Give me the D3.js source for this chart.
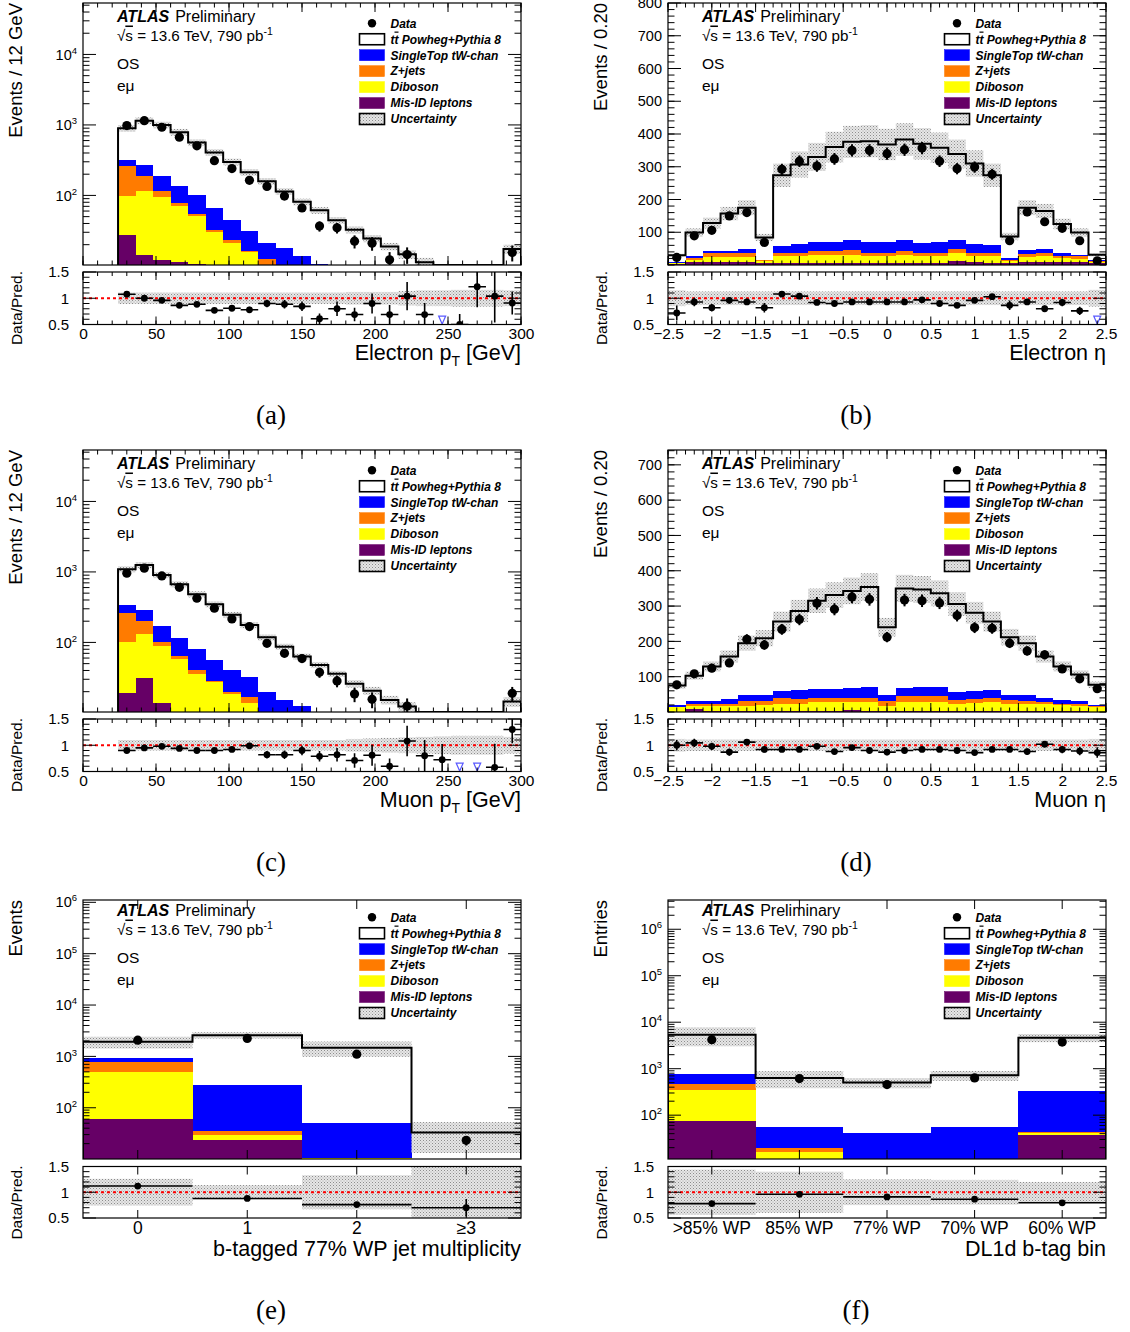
<!DOCTYPE html>
<html><head><meta charset="utf-8">
<script src="https://cdn.jsdelivr.net/npm/d3@7"></script>
<style>
body{margin:0;background:#fff}
svg{display:block}
text{font-family:"Liberation Sans",Arial,Helvetica,sans-serif}
</style>
</head><body>
<svg id="c" width="1130" height="1332"></svg>
<script>
// ---------------- DATA ----------------
const ptEdges = [24,36,48,60,72,84,96,108,120,132,144,156,168,180,192,204,216,228,240,252,264,276,288,300];
const etaEdges = [-2.5,-2.3,-2.1,-1.9,-1.7,-1.5,-1.3,-1.1,-0.9,-0.7,-0.5,-0.3,-0.1,0.1,0.3,0.5,0.7,0.9,1.1,1.3,1.5,1.7,1.9,2.1,2.3,2.5];
const nbCategories = ["0","1","2","\u22653"];
const dlCategories = [">85% WP","85% WP","77% WP","70% WP","60% WP"];
const ptTicks = [0,50,100,150,200,250,300];
const etaTicks = [-2.5,-2,-1.5,-1,-0.5,0,0.5,1,1.5,2,2.5];
const ratioTicks = [0.5,1,1.5];
const elEtaYTicks = [100,200,300,400,500,600,700,800];
const muEtaYTicks = [100,200,300,400,500,600,700];

// (a) electron pT
const elPtData = [978,1150,927,670,505,311,240,164,134,98,66.5,36.7,34.7,22.4,21,12.2,14.5,7,2,3,6,4,15.5];
const elPtTtbar = [577,883,814,652,463,341,254,182,138,96.1,67,50.7,37.5,27.5,20.5,15.9,12.1,9.3,6.5,5,3.8,3.2,14.4];
const elPtSingleTop = [58,81,72,60,46,34,22,14.5,8.4,12.9,11,8.8,5.5,4,3,2.5,2,2,1.5,1,1,0.8,2];
const elPtZjets = [165,72,18,7,3,2,2,1,6.6,2,1,1,0.5,0.5,0.5,0.5,0.5,0,0,0,0,0,0.5];
const elPtDiboson = [70.5,99.5,84,59.8,40.3,26,18,13.5,5,2,1.5,0.7,1,0.5,0.5,0,0,0,0,0,0,0,0.5];
const elPtMisID = [27.5,14.5,12,11.2,10.7,4,3,2,1,1,0.5,0.3,0,0,0,0,0,0,0,0,0,0,0];
const elPtRatio = [1.077,1.0,0.96,0.865,0.885,0.77,0.81,0.78,0.90,0.885,0.846,0.61,0.80,0.69,0.90,0.69,1.04,0.69,null,0.5,1.22,1.04,0.91];
const elPtRatioErr = [0.03,0.03,0.03,0.04,0.04,0.05,0.05,0.06,0.07,0.08,0.09,0.1,0.14,0.13,0.19,0.18,0.27,0.22,0,0.2,0.39,0.5,0.22];
const elPtUnc = [0.11,0.11,0.11,0.11,0.11,0.11,0.11,0.11,0.11,0.11,0.11,0.11,0.11,0.12,0.12,0.12,0.14,0.15,0.15,0.16,0.16,0.16,0.15];

// (b) electron eta
const elEtaData = [23,89,106,150,160,69,292,317,302,324,350,350,340,352,357,317,294,299,277,74,162,132,112,74,13];
const elEtaTtbar = [20,71,86,115,126,68,215,243,259,289,299,307,297,306,304,289,263,245,214,67,129,115,88,68,16];
const elEtaSingleTop = [3,7,6,6,13,2,23,27,27,29,31,33,33,33,28,33,27,27,22,4,12,12,9,5,3];
const elEtaZjets = [2,5,13,12,13,2,8,9,14,12,16,10,10,14,10,8,13,10,10,4,9,12,7,8,4];
const elEtaDiboson = [2,8,15,16,15,7,22,22,25,25,25,23,23,25,23,23,25,20,22,7,17,18,13,10,3];
const elEtaMisID = [3,8,8,8,8,5,6,6,5,5,5,5,5,5,5,5,11,8,6,5,8,8,8,8,5];
const elEtaRatio = [0.72,0.93,0.82,0.96,0.93,0.82,1.08,1.04,0.92,0.90,0.93,0.93,0.93,0.93,0.97,0.90,0.865,0.96,1.03,0.865,0.93,0.80,0.92,0.76,null];
const elEtaRatioErr = [0.14,0.08,0.07,0.06,0.06,0.09,0.05,0.04,0.04,0.04,0.04,0.04,0.04,0.04,0.04,0.04,0.04,0.04,0.05,0.09,0.06,0.06,0.07,0.08,0];
const elEtaUnc = [0.15,0.13,0.13,0.13,0.13,0.13,0.13,0.13,0.13,0.13,0.13,0.13,0.13,0.13,0.13,0.13,0.13,0.13,0.13,0.13,0.13,0.13,0.13,0.13,0.16];

// (c) muon pT
const muPtData = [958,1130,877,605,424,306,215,168,97,70,59,37.6,28.4,18.5,15.6,9,12.5,7,5,0,0,2,19];
const muPtTtbar = [752,967,735,554,403,292,205,145,98.5,72,50.5,40,30,21,16.7,12.3,9.8,7,5.5,4.5,3.5,2.8,11.5];
const muPtSingleTop = [76,85,71,51,40,27.6,21.5,15.4,11.5,10,9.5,6,4.5,4,3,2.5,2,1.7,1.2,1,1,1,2];
const muPtZjets = [161,72,10,6,4,0.9,1,2.6,2,2,1,1,0.5,0.5,0.5,0.2,0.2,0.3,0.3,0,0,0,0.5];
const muPtDiboson = [84,100.5,76,53,33,25.5,17.5,13,5.5,2.5,1.7,0.8,1,0.5,0.5,0.3,0.3,0,0,0,0,0,0.5];
const muPtMisID = [19,31.5,14,5,3,2,1,1,0.5,0.5,0.3,0.2,0,0,0,0,0,0,0,0,0,0,0];
const muPtRatio = [0.90,0.95,0.98,0.94,0.90,0.90,0.92,0.99,0.82,0.82,0.90,0.79,0.82,0.71,0.81,0.60,1.08,0.80,0.725,null,null,0.58,1.30];
const muPtRatioErr = [0.03,0.03,0.03,0.04,0.04,0.05,0.05,0.06,0.07,0.08,0.09,0.1,0.13,0.14,0.2,0.15,0.29,0.3,0.3,0,0,0.45,0.26];
const muPtUnc = [0.1,0.1,0.1,0.1,0.1,0.1,0.1,0.1,0.1,0.1,0.1,0.1,0.1,0.12,0.13,0.14,0.15,0.16,0.17,0.18,0.18,0.18,0.16];

// (d) muon eta
const muEtaData = [77,108,124,139,206,190,234,262,308,291,326,319,212,317,315,309,273,239,237,195,173,162,122,94,66];
const muEtaTtbar = [56,73,99,120,146,161,197,224,250,266,275,284,192,282,277,265,250,222,195,163,147,116,95,76,58];
const muEtaSingleTop = [4,6,7,14,19,18,19,24,24,24,28,29,18,24,26,27,23,23,20,16,18,13,10,6,2];
const muEtaZjets = [2,6,6,6,12,11,16,14,13,13,12,13,12,15,16,16,11,10,13,9,8,6,4,6,2];
const muEtaDiboson = [12,10,14,14,15,16,21,21,25,25,21,25,15,26,25,25,19,23,25,21,19,19,17,15,14];
const muEtaMisID = [1,8,3,3,3,3,3,3,3,3,7,3,3,3,3,3,3,3,3,3,3,3,3,3,1];
const muEtaRatio = [1.0,1.045,0.98,0.87,1.06,0.92,0.92,0.92,0.98,0.88,0.955,0.90,0.87,0.90,0.92,0.92,0.90,0.86,0.92,0.92,0.88,1.02,0.92,0.89,0.86];
const muEtaRatioErr = [0.1,0.08,0.07,0.07,0.06,0.06,0.05,0.05,0.05,0.05,0.05,0.05,0.06,0.05,0.05,0.05,0.05,0.05,0.05,0.05,0.06,0.06,0.07,0.08,0.1];
const muEtaUnc = [0.12,0.11,0.11,0.11,0.11,0.11,0.11,0.11,0.11,0.11,0.11,0.11,0.11,0.11,0.11,0.11,0.11,0.11,0.11,0.11,0.11,0.11,0.11,0.11,0.12];

// (e) b-tag multiplicity
const nbData = [2070,2235,1104,23.2];
const nbTtbar = [986,2315,1415,25.9];
const nbSingleTop = [153,240,40.7,5];
const nbZjets = [282,4.8,0.3,0.5];
const nbDiboson = [439,6.8,0.2,0.5];
const nbMisID = [59.7,23.2,10.2,1];
const nbRatio = [1.12,0.88,0.76,0.70];
const nbRatioErr = [0.02,0.02,0.03,0.17];
const nbUnc = [0.26,0.14,0.33,0.6];

// (f) DL1d b-tag bin
const dlData = [4210,614,456,632,3740];
const dlTtbar = [4641,576,462.5,666.5,4323];
const dlSingleTop = [297,36.1,36.5,50.5,284.4];
const dlZjets = [118,3.6,1,1,2.1];
const dlDiboson = [270,11.3,1,1,3.2];
const dlMisID = [74,5,2,2,37.3];
const dlRatio = [0.78,0.96,0.91,0.865,0.795];
const dlRatioErr = [0.02,0.04,0.05,0.04,0.02];
const dlUnc = [0.44,0.40,0.25,0.24,0.20];

// ---------------- STYLE / LAYOUT ----------------
const COL_MISID = "#660066", COL_DIB = "#ffff00", COL_Z = "#ff7b00", COL_ST = "#0000ff", COL_TT = "#ffffff";
const cols = [{x0:83,x1:521},{x0:668,x1:1106}];
const rows = [
  {mt:3,mb:265,rt:272,rb:324.5,off:0,xlab:16,xlabPad:3.5},
  {mt:450,mb:712,rt:719,rb:771.5,off:447,xlab:16,xlabPad:3.5},
  {mt:900,mb:1159,rt:1166.5,rb:1218,off:894,xlab:17.5,xlabPad:3.5}
];
const fmtEta = v => v<0 ? "\u2212"+Math.abs(v) : String(v);

const panels = [
  {id:"a",col:0,row:0,edges:ptEdges,xDomain:[0,300],xMajor:ptTicks,xMinorStep:10,xFmt:String,log:true,yDomain:[10.3,53700],
   data:elPtData,comps:[elPtMisID,elPtDiboson,elPtZjets,elPtSingleTop,elPtTtbar],ratio:elPtRatio,ratioErr:elPtRatioErr,unc:elPtUnc,
   yTitle:"Events / 12 GeV",xTitle:["Electron p","T"," [GeV]"],label:"(a)"},
  {id:"b",col:1,row:0,edges:etaEdges,xDomain:[-2.5,2.5],xMajor:etaTicks,xMinorStep:0.1,xFmt:fmtEta,log:false,yDomain:[0,800],yMajor:elEtaYTicks,yMinorStep:20,
   data:elEtaData,comps:[elEtaMisID,elEtaDiboson,elEtaZjets,elEtaSingleTop,elEtaTtbar],ratio:elEtaRatio,ratioErr:elEtaRatioErr,unc:elEtaUnc,
   yTitle:"Events / 0.20",xTitle:["Electron \u03b7"],label:"(b)"},
  {id:"c",col:0,row:1,edges:ptEdges,xDomain:[0,300],xMajor:ptTicks,xMinorStep:10,xFmt:String,log:true,yDomain:[10.3,53700],
   data:muPtData,comps:[muPtMisID,muPtDiboson,muPtZjets,muPtSingleTop,muPtTtbar],ratio:muPtRatio,ratioErr:muPtRatioErr,unc:muPtUnc,
   yTitle:"Events / 12 GeV",xTitle:["Muon p","T"," [GeV]"],label:"(c)"},
  {id:"d",col:1,row:1,edges:etaEdges,xDomain:[-2.5,2.5],xMajor:etaTicks,xMinorStep:0.1,xFmt:fmtEta,log:false,yDomain:[0,742],yMajor:muEtaYTicks,yMinorStep:20,
   data:muEtaData,comps:[muEtaMisID,muEtaDiboson,muEtaZjets,muEtaSingleTop,muEtaTtbar],ratio:muEtaRatio,ratioErr:muEtaRatioErr,unc:muEtaUnc,
   yTitle:"Events / 0.20",xTitle:["Muon \u03b7"],label:"(d)"},
  {id:"e",col:0,row:2,cats:nbCategories,log:true,yDomain:[10.05,1.11e6],
   data:nbData,comps:[nbMisID,nbDiboson,nbZjets,nbSingleTop,nbTtbar],ratio:nbRatio,ratioErr:nbRatioErr,unc:nbUnc,
   yTitle:"Events",xTitle:["b-tagged 77% WP jet multiplicity"],label:"(e)"},
  {id:"f",col:1,row:2,cats:dlCategories,log:true,yDomain:[11.4,4.26e6],
   data:dlData,comps:[dlMisID,dlDiboson,dlZjets,dlSingleTop,dlTtbar],ratio:dlRatio,ratioErr:dlRatioErr,unc:dlUnc,
   yTitle:"Entries",xTitle:["DL1d b-tag bin"],label:"(f)"}
];
const compColors = [COL_MISID,COL_DIB,COL_Z,COL_ST,COL_TT];

// ---------------- DRAW ----------------
const svg = d3.select("#c");
const defs = svg.append("defs");
const pat = defs.append("pattern").attr("id","unc").attr("width",3).attr("height",3).attr("patternUnits","userSpaceOnUse");
pat.append("rect").attr("width",3).attr("height",3).attr("fill","#e6e6e6");
pat.append("rect").attr("width",1).attr("height",1).attr("fill","#8c8c8c");
pat.append("rect").attr("x",1.5).attr("y",1.5).attr("width",1).attr("height",1).attr("fill","#a8a8a8");

function logMajor(dom){const o=[];for(let e=Math.ceil(Math.log10(dom[0]));e<=Math.floor(Math.log10(dom[1])+1e-9);e++)o.push(Math.pow(10,e));return o;}
function logMinor(dom){const o=[];for(let e=Math.floor(Math.log10(dom[0]));e<=Math.ceil(Math.log10(dom[1]));e++){for(let k=2;k<=9;k++){const v=k*Math.pow(10,e);if(v>=dom[0]&&v<=dom[1])o.push(v);}}return o;}

function hTicks(g, vals, sc, x0, x1, len){
  g.selectAll(null).data(vals).enter().append("line")
    .attr("x1",x0).attr("x2",x0+len).attr("y1",d=>sc(d)).attr("y2",d=>sc(d));
  g.selectAll(null).data(vals).enter().append("line")
    .attr("x1",x1).attr("x2",x1-len).attr("y1",d=>sc(d)).attr("y2",d=>sc(d));
}
function vTicks(g, xsPos, yTop, yBot, len){
  g.selectAll(null).data(xsPos).enter().append("line")
    .attr("x1",d=>d).attr("x2",d=>d).attr("y1",yBot).attr("y2",yBot-len);
  g.selectAll(null).data(xsPos).enter().append("line")
    .attr("x1",d=>d).attr("x2",d=>d).attr("y1",yTop).attr("y2",yTop+len);
}

panels.forEach(p=>{
  const {x0,x1} = cols[p.col];
  const r = rows[p.row];
  const g = svg.append("g");
  let xs, bins;
  if(p.edges){
    xs = d3.scaleLinear().domain(p.xDomain).range([x0,x1]);
    bins = p.edges.slice(0,-1).map((e,i)=>({lo:xs(e),hi:xs(p.edges[i+1])}));
  } else {
    xs = d3.scaleBand().domain(p.cats).range([x0,x1]);
    bins = p.cats.map(c=>({lo:xs(c),hi:xs(c)+xs.bandwidth()}));
  }
  bins.forEach(b=>b.c=(b.lo+b.hi)/2);
  const ys = (p.log ? d3.scaleLog() : d3.scaleLinear()).domain(p.yDomain).range([r.mb,r.mt]).clamp(true);
  const yr = d3.scaleLinear().domain([0.5,1.5]).range([r.rb,r.rt]);

  defs.append("clipPath").attr("id","cm"+p.id).append("rect").attr("x",x0).attr("y",r.mt).attr("width",x1-x0).attr("height",r.mb-r.mt);
  defs.append("clipPath").attr("id","cr"+p.id).append("rect").attr("x",x0).attr("y",r.rt).attr("width",x1-x0).attr("height",r.rb-r.rt);

  // ---- main pad
  const main = g.append("g").attr("clip-path",`url(#cm${p.id})`);
  const totals = bins.map((b,i)=>p.comps.reduce((s,a)=>s+a[i],0));
  const stackRects = [];
  bins.forEach((b,i)=>{
    let cum = 0;
    p.comps.forEach((arr,k)=>{
      const v = arr[i];
      if(v>0){ stackRects.push({b,lo:cum,hi:cum+v,col:compColors[k]}); }
      cum += v;
    });
  });
  main.selectAll(null).data(stackRects).enter().append("rect")
    .attr("x",d=>d.b.lo).attr("width",d=>d.b.hi-d.b.lo)
    .attr("y",d=>ys(d.hi)).attr("height",d=>Math.max(0,ys(d.lo)-ys(d.hi)))
    .attr("fill",d=>d.col).attr("shape-rendering","crispEdges");
  main.selectAll(null).data(bins).enter().append("rect")
    .attr("x",d=>d.lo).attr("width",d=>d.hi-d.lo)
    .attr("y",(d,i)=>ys(totals[i]*(1+p.unc[i])))
    .attr("height",(d,i)=>Math.max(0,ys(totals[i]*(1-p.unc[i]))-ys(totals[i]*(1+p.unc[i]))))
    .attr("fill","url(#unc)");
  let path = d3.path();
  path.moveTo(bins[0].lo, r.mb);
  bins.forEach((b,i)=>{ path.lineTo(b.lo, ys(totals[i])); path.lineTo(b.hi, ys(totals[i])); });
  path.lineTo(bins[bins.length-1].hi, r.mb);
  main.append("path").attr("d",path.toString()).attr("fill","none").attr("stroke","#000").attr("stroke-width",2);
  const pts = bins.map((b,i)=>({b,v:p.data[i]})).filter(d=>d.v>=p.yDomain[0]);
  main.selectAll(null).data(pts).enter().append("line")
    .attr("x1",d=>d.b.c).attr("x2",d=>d.b.c)
    .attr("y1",d=>ys(d.v+Math.sqrt(d.v))).attr("y2",d=>ys(Math.max(d.v-Math.sqrt(d.v),1e-3)))
    .attr("stroke","#000").attr("stroke-width",2);
  main.selectAll(null).data(pts).enter().append("circle")
    .attr("cx",d=>d.b.c).attr("cy",d=>ys(d.v)).attr("r",4.6).attr("fill","#000");

  // frame + ticks main
  const tk = g.append("g").attr("stroke","#000").attr("stroke-width",1);
  if(p.log){
    hTicks(tk, logMajor(p.yDomain), ys, x0, x1, 13);
    hTicks(tk, logMinor(p.yDomain), ys, x0, x1, 6.5);
  } else {
    hTicks(tk, p.yMajor, ys, x0, x1, 13);
    hTicks(tk, d3.range(0,p.yDomain[1],p.yMinorStep), ys, x0, x1, 6.5);
  }
  let xMajPos, xMinPos;
  if(p.edges){
    xMajPos = p.xMajor.map(xs);
    xMinPos = d3.range(p.xDomain[0], p.xDomain[1]+1e-9, p.xMinorStep).map(xs);
  } else {
    xMajPos = bins.map(b=>b.c); xMinPos = [];
  }
  vTicks(tk, xMajPos, r.mt, r.mb, 9);
  vTicks(tk, xMinPos, r.mt, r.mb, 4.5);
  g.append("rect").attr("x",x0).attr("y",r.mt).attr("width",x1-x0).attr("height",r.mb-r.mt)
    .attr("fill","none").attr("stroke","#000").attr("stroke-width",1.2);

  const yl = g.append("g").attr("transform",`translate(${x0},0)`)
    .call(d3.axisLeft(ys).tickValues(p.log?logMajor(p.yDomain):p.yMajor).tickSize(0).tickPadding(6)
      .tickFormat(p.log? (d=>"") : d3.format("d")));
  yl.select(".domain").remove();
  yl.selectAll("text").attr("font-size",14.5);
  if(p.log){
    yl.selectAll("text").each(function(d){
      const t=d3.select(this);
      t.append("tspan").text("10");
      t.append("tspan").attr("dy",-6).attr("font-size",9.5).text(Math.round(Math.log10(d)));
    });
  }

  // ---- ratio pad
  const rp = g.append("g").attr("clip-path",`url(#cr${p.id})`);
  rp.selectAll(null).data(bins).enter().append("rect")
    .attr("x",d=>d.lo).attr("width",d=>d.hi-d.lo)
    .attr("y",(d,i)=>yr(1+p.unc[i])).attr("height",(d,i)=>yr(1-p.unc[i])-yr(1+p.unc[i]))
    .attr("fill","url(#unc)");
  rp.append("line").attr("x1",x0).attr("x2",x1).attr("y1",yr(1)).attr("y2",yr(1))
    .attr("stroke","#ff0000").attr("stroke-width",2).attr("stroke-dasharray","3,3");
  const rpts = bins.map((b,i)=>({b,v:p.ratio[i],e:p.ratioErr[i]}));
  const good = rpts.filter(d=>d.v!==null);
  rp.selectAll(null).data(good).enter().append("line")
    .attr("x1",d=>d.b.lo).attr("x2",d=>d.b.hi).attr("y1",d=>yr(d.v)).attr("y2",d=>yr(d.v))
    .attr("stroke","#000").attr("stroke-width",1.6);
  rp.selectAll(null).data(good).enter().append("line")
    .attr("x1",d=>d.b.c).attr("x2",d=>d.b.c).attr("y1",d=>yr(d.v+d.e)).attr("y2",d=>yr(d.v-d.e))
    .attr("stroke","#000").attr("stroke-width",1.6);
  rp.selectAll(null).data(good).enter().append("circle")
    .attr("cx",d=>d.b.c).attr("cy",d=>yr(d.v)).attr("r",3.4).attr("fill","#000");
  const low = rpts.filter(d=>d.v===null);
  rp.selectAll(null).data(low).enter().append("path")
    .attr("d",d=>{const cx=d.b.c, cy=yr(0.585); return `M${cx-3.5},${cy-4}L${cx+3.5},${cy-4}L${cx},${cy+4}Z`;})
    .attr("fill","none").attr("stroke","#5a5aff").attr("stroke-width",1.2);

  const tr = g.append("g").attr("stroke","#000").attr("stroke-width",1);
  hTicks(tr, ratioTicks, yr, x0, x1, 13);
  hTicks(tr, d3.range(0.6,1.5,0.1).filter(v=>Math.abs(v-1)>0.01), yr, x0, x1, 6.5);
  vTicks(tr, xMajPos, r.rt, r.rb, 8);
  vTicks(tr, xMinPos, r.rt, r.rb, 4);
  g.append("rect").attr("x",x0).attr("y",r.rt).attr("width",x1-x0).attr("height",r.rb-r.rt)
    .attr("fill","none").attr("stroke","#000").attr("stroke-width",1.2);

  const ryl = g.append("g").attr("transform",`translate(${x0},0)`)
    .call(d3.axisLeft(yr).tickValues(ratioTicks).tickSize(0).tickPadding(14).tickFormat(d=>String(d)));
  ryl.select(".domain").remove();
  ryl.selectAll("text").attr("font-size",15);

  const xax = p.edges ? d3.axisBottom(xs).tickValues(p.xMajor).tickFormat(p.xFmt) : d3.axisBottom(xs);
  const xl = g.append("g").attr("transform",`translate(0,${r.rb})`).call(xax.tickSize(0).tickPadding(r.xlabPad));
  xl.select(".domain").remove();
  xl.selectAll("text").attr("font-size", p.edges ? 15.5 : r.xlab);

  // ---- titles
  const off = r.off;
  const xt = g.append("text").attr("x",x1).attr("y",360+off+(p.row===2?2:0)).attr("text-anchor","end").attr("font-size",21.5);
  xt.append("tspan").text(p.xTitle[0]);
  if(p.xTitle.length>1){
    xt.append("tspan").attr("dy",6).attr("font-size",14).text(p.xTitle[1]);
    xt.append("tspan").attr("dy",-6).text(p.xTitle[2]);
  }
  const ytx = x0-61;
  g.append("text").attr("transform",`translate(${ytx},${r.mt}) rotate(-90)`).attr("text-anchor","end")
    .attr("font-size",18.5).text(p.yTitle);
  g.append("text").attr("transform",`translate(${ytx},${r.rt-1}) rotate(-90)`).attr("text-anchor","end")
    .attr("font-size",15.5).text("Data/Pred.");
  g.append("text").attr("x",x0+188).attr("y",424+off+(p.row===2?1:0)).attr("text-anchor","middle")
    .style("font-family","'Liberation Serif','DejaVu Serif',serif").attr("font-size",27).text(p.label);

  // ATLAS label
  const at = g.append("text").attr("x",x0+34).attr("y",21.5+off).attr("font-size",16);
  at.append("tspan").attr("font-weight","bold").attr("font-style","italic").text("ATLAS");
  at.append("tspan").attr("dx",6).text("Preliminary");
  const sq = g.append("text").attr("x",x0+34).attr("y",40.5+off).attr("font-size",15.2);
  sq.append("tspan").text("\u221a");
  sq.append("tspan").attr("text-decoration","overline").text("s");
  sq.append("tspan").text(" = 13.6 TeV, 790 pb");
  sq.append("tspan").attr("dy",-6).attr("font-size",10.5).text("-1");
  g.append("text").attr("x",x0+34).attr("y",68.5+off).attr("font-size",15.5).text("OS");
  g.append("text").attr("x",x0+34).attr("y",91+off).attr("font-size",15.5).text("e\u03bc");

  // legend
  const lg = g.append("g");
  const lx = x0+276.5, ly0 = 23.3+off, dy = 15.95;
  const items = [
    {t:"data",label:"Data"},
    {fill:"#fff",stroke:"#000",label:"tt"},
    {fill:COL_ST,label:"SingleTop tW-chan"},
    {fill:COL_Z,label:"Z+jets"},
    {fill:COL_DIB,label:"Diboson"},
    {fill:COL_MISID,label:"Mis-ID leptons"},
    {fill:"url(#unc)",stroke:"#000",label:"Uncertainty"}
  ];
  items.forEach((it,i)=>{
    const cy = ly0 + i*dy;
    if(it.t==="data"){
      lg.append("circle").attr("cx",lx+12.5).attr("cy",cy).attr("r",4.2).attr("fill","#000");
    } else {
      lg.append("rect").attr("x",lx).attr("y",cy-5.5).attr("width",25).attr("height",11)
        .attr("fill",it.fill).attr("stroke",it.stroke||it.fill).attr("stroke-width",it.stroke?1.6:0.5);
    }
    const tx = lg.append("text").attr("x",lx+31).attr("y",cy+4.3).attr("font-size",12)
      .attr("font-weight","bold").attr("font-style","italic");
    if(it.label==="tt"){
      tx.append("tspan").text("t");
      tx.append("tspan").attr("text-decoration","overline").text("t");
      tx.append("tspan").text(" Powheg+Pythia 8");
    } else tx.text(it.label);
  });
});
</script>
</body></html>
